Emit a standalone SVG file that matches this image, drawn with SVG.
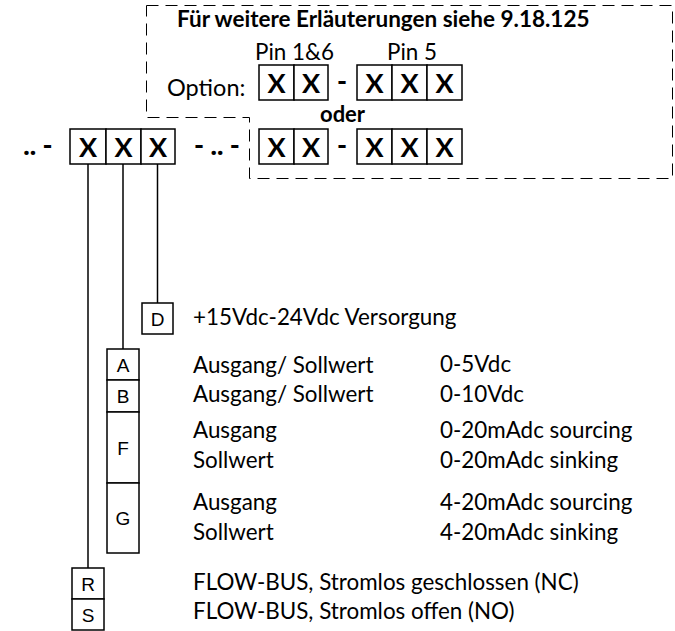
<svg xmlns="http://www.w3.org/2000/svg" width="675" height="631" viewBox="0 0 675 631">
<style>
.box{fill:#fff;stroke:#000;stroke-width:1.5}
.ln{stroke:#000;stroke-width:1.5;fill:none}
.dash{stroke:#000;stroke-width:1;fill:none;stroke-dasharray:12 7}
.x{font-family:Lato,"Liberation Sans",sans-serif;font-weight:bold;font-size:27px;text-anchor:middle}
.d{font-family:Lato,"Liberation Sans",sans-serif;font-weight:900;font-size:27px;text-anchor:middle}
.b{font-family:Lato,"Liberation Sans",sans-serif;font-weight:bold;font-size:22.5px}
.t{font-family:Lato,"Liberation Sans",sans-serif;font-size:22.4px}
.l{font-family:"Liberation Sans",Arial,sans-serif;font-size:19px;text-anchor:middle}
</style>
<rect width="675" height="631" fill="#fff"/>
<g id="option-frame">
<path class="dash" d="M146.5,5.5 H672.5 V178.5 H249.5 V117.5 H146.5 Z"/>
<text class="b" x="177" y="27">Für weitere Erläuterungen siehe 9.18.125</text>
<text class="t" x="255" y="60">Pin 1&amp;6</text>
<text class="t" x="387" y="60">Pin 5</text>
<text class="t" x="167" y="96" style="font-size:23.5px">Option:</text>
<text class="b" x="320" y="122" style="font-size:22px">oder</text>
</g>
<g id="option-row1">
<rect class="box" x="259" y="65" width="35" height="35"/>
<rect class="box" x="294" y="65" width="34" height="35"/>
<text class="x" x="276.5" y="92.5">X</text>
<text class="x" x="311" y="92.5">X</text>
<text class="d" x="342" y="91">-</text>
<rect class="box" x="357" y="65" width="35" height="35"/>
<rect class="box" x="392" y="65" width="35" height="35"/>
<rect class="box" x="427" y="65" width="35" height="35"/>
<text class="x" x="374.5" y="92.5">X</text>
<text class="x" x="409.5" y="92.5">X</text>
<text class="x" x="444.5" y="92.5">X</text>
</g>
<g id="option-row2">
<rect class="box" x="259" y="129" width="35" height="35"/>
<rect class="box" x="294" y="129" width="34" height="35"/>
<text class="x" x="276.5" y="156.5">X</text>
<text class="x" x="311" y="156.5">X</text>
<text class="d" x="342" y="155">-</text>
<rect class="box" x="357" y="129" width="35" height="35"/>
<rect class="box" x="392" y="129" width="35" height="35"/>
<rect class="box" x="427" y="129" width="35" height="35"/>
<text class="x" x="374.5" y="156.5">X</text>
<text class="x" x="409.5" y="156.5">X</text>
<text class="x" x="444.5" y="156.5">X</text>
</g>
<g id="main-code">
<text class="d" x="38" y="155">.. -</text>
<rect class="box" x="70" y="129" width="36" height="35"/>
<rect class="box" x="106" y="129" width="35" height="35"/>
<rect class="box" x="141" y="129" width="34" height="35"/>
<text class="x" x="88" y="156.5">X</text>
<text class="x" x="123.5" y="156.5">X</text>
<text class="x" x="158" y="156.5">X</text>
<text class="d" x="217" y="155">- .. -</text>
</g>
<g id="connectors">
<line class="ln" x1="88" y1="164" x2="88" y2="568"/>
<line class="ln" x1="123" y1="164" x2="123" y2="349"/>
<line class="ln" x1="157.5" y1="164" x2="157.5" y2="303"/>
</g>
<g id="node-D">
<rect class="box" x="142" y="303" width="31" height="31"/>
<text class="l" x="157.5" y="325.5">D</text>
<text class="t" x="193" y="325">+15Vdc-24Vdc Versorgung</text>
</g>
<g id="node-A">
<rect class="box" x="107" y="349" width="32" height="31"/>
<text class="l" x="123" y="371.5">A</text>
<text class="t" x="193" y="373">Ausgang/ Sollwert</text>
<text class="t" x="440" y="372">0-5Vdc</text>
</g>
<g id="node-B">
<rect class="box" x="107" y="380" width="32" height="32"/>
<text class="l" x="123" y="402.5">B</text>
<text class="t" x="193" y="402">Ausgang/ Sollwert</text>
<text class="t" x="440" y="402">0-10Vdc</text>
</g>
<g id="node-F">
<rect class="box" x="107" y="412" width="32" height="71"/>
<text class="l" x="123" y="454.5">F</text>
<text class="t" x="193" y="438">Ausgang</text>
<text class="t" x="440" y="438">0-20mAdc sourcing</text>
<text class="t" x="193" y="468">Sollwert</text>
<text class="t" x="440" y="468">0-20mAdc sinking</text>
</g>
<g id="node-G">
<rect class="box" x="107" y="483" width="32" height="70"/>
<text class="l" x="123" y="524.5">G</text>
<text class="t" x="193" y="510">Ausgang</text>
<text class="t" x="440" y="510">4-20mAdc sourcing</text>
<text class="t" x="193" y="540">Sollwert</text>
<text class="t" x="440" y="540">4-20mAdc sinking</text>
</g>
<g id="node-R">
<rect class="box" x="72" y="568" width="32" height="31"/>
<text class="l" x="88" y="590.5">R</text>
<text class="t" x="193" y="590">FLOW-BUS, Stromlos geschlossen (NC)</text>
</g>
<g id="node-S">
<rect class="box" x="72" y="599" width="32" height="31"/>
<text class="l" x="88" y="621.5">S</text>
<text class="t" x="193" y="619">FLOW-BUS, Stromlos offen (NO)</text>
</g>
</svg>
